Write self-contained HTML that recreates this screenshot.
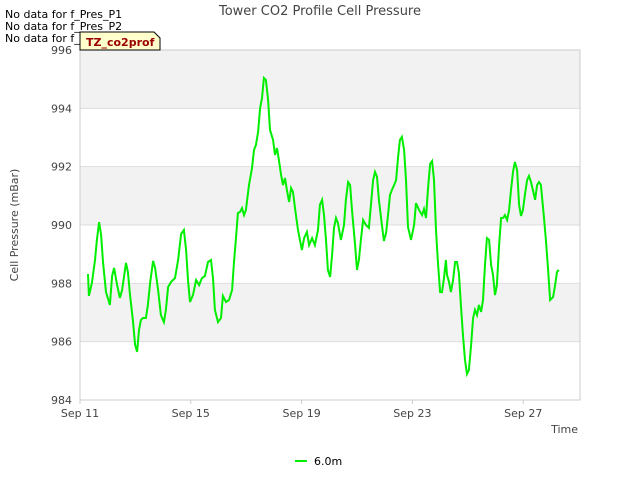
<!DOCTYPE html>
<html><head><meta charset="utf-8"><style>
body{margin:0;background:#fff;font-family:"Liberation Sans","DejaVu Sans",sans-serif}
svg text{font-family:"DejaVu Sans","Liberation Sans",sans-serif}
</style></head><body>
<svg id="chart" width="640" height="480" xmlns="http://www.w3.org/2000/svg">
<rect width="640" height="480" fill="#fff"/>
<g id="bands"></g>
<g id="grid"></g>
<rect x="80" y="50" width="500" height="350" fill="none" stroke="#ccc" stroke-width="1"/>
<g id="yticks"></g><g id="xticks"></g>
<path id="line" fill="none" stroke="#00ee00" stroke-width="2"/>
<text x="320" y="15" text-anchor="middle" font-size="13" fill="#444">Tower CO2 Profile Cell Pressure</text>
<text x="18" y="225" text-anchor="middle" font-size="11" fill="#444" transform="rotate(-90 18 225)">Cell Pressure (mBar)</text>
<text x="578" y="433" text-anchor="end" font-size="11" fill="#444">Time</text>
<text x="5" y="18" font-size="11" fill="#000">No data for f_Pres_P1</text>
<text x="5" y="30" font-size="11" fill="#000">No data for f_Pres_P2</text>
<text x="5" y="42" font-size="11" fill="#000">No data for f_Pres_P4</text>
<path d="M80,32 L154,32 L160,38 L160,50 L80,50 Z" fill="#ffffcc" stroke="#000" stroke-width="1"/>
<text x="86" y="46" font-size="11" font-weight="bold" fill="#990000">TZ_co2prof</text>
<line x1="295" y1="461" x2="307" y2="461" stroke="#00ee00" stroke-width="2"/>
<text x="314" y="465" font-size="11" fill="#000">6.0m</text>
</svg>
<script>
const days=[0.29,0.32,0.43,0.54,0.61,0.69,0.76,0.83,0.94,1.08,1.16,1.23,1.34,1.44,1.52,1.59,1.66,1.73,1.81,1.91,1.99,2.06,2.13,2.20,2.27,2.38,2.45,2.53,2.64,2.71,2.82,2.92,3.03,3.10,3.18,3.29,3.43,3.54,3.65,3.75,3.83,3.90,3.97,4.08,4.19,4.30,4.40,4.51,4.62,4.73,4.80,4.87,4.98,5.09,5.16,5.27,5.38,5.49,5.56,5.63,5.70,5.78,5.85,5.92,5.99,6.10,6.21,6.28,6.35,6.43,6.50,6.57,6.64,6.71,6.79,6.86,6.97,7.04,7.11,7.18,7.26,7.33,7.40,7.47,7.55,7.62,7.69,7.76,7.87,8.01,8.09,8.19,8.27,8.38,8.48,8.59,8.66,8.74,8.81,8.88,8.95,9.03,9.10,9.17,9.24,9.31,9.42,9.53,9.60,9.68,9.75,9.82,9.93,10.00,10.07,10.14,10.22,10.32,10.43,10.51,10.58,10.65,10.72,10.79,10.90,10.97,11.05,11.12,11.19,11.26,11.34,11.41,11.48,11.55,11.62,11.70,11.77,11.84,11.95,12.06,12.13,12.24,12.35,12.42,12.49,12.56,12.64,12.71,12.78,12.85,12.92,13.00,13.07,13.14,13.21,13.25,13.32,13.39,13.47,13.54,13.61,13.68,13.75,13.83,13.90,13.97,14.04,14.12,14.19,14.26,14.33,14.40,14.48,14.55,14.62,14.69,14.77,14.84,14.91,14.98,15.05,15.13,15.20,15.27,15.34,15.42,15.49,15.56,15.63,15.70,15.78,15.85,15.92,15.99,16.06,16.14,16.21,16.28,16.35,16.43,16.50,16.57,16.64,16.75,16.82,16.90,16.97,17.08,17.15,17.22,17.29];
const pressure=[988.32,987.57,988.01,988.80,989.49,990.10,989.66,988.73,987.70,987.26,988.25,988.53,987.94,987.50,987.77,988.22,988.70,988.39,987.57,986.74,985.89,985.65,986.40,986.74,986.81,986.81,987.26,988.01,988.77,988.53,987.77,986.91,986.67,987.09,987.87,988.05,988.18,988.80,989.69,989.83,989.14,988.11,987.36,987.60,988.11,987.94,988.18,988.25,988.73,988.80,988.18,987.09,986.67,986.81,987.57,987.36,987.43,987.77,988.73,989.55,990.41,990.45,990.58,990.34,990.51,991.37,991.95,992.57,992.74,993.19,994.01,994.35,995.04,994.97,994.29,993.26,992.91,992.40,992.64,992.23,991.71,991.37,991.61,991.20,990.79,991.27,991.13,990.58,989.83,989.14,989.55,989.76,989.31,989.55,989.31,989.83,990.69,990.86,990.34,989.49,988.46,988.22,988.97,989.90,990.24,990.07,989.49,990.00,990.86,991.47,991.37,990.51,989.31,988.46,988.80,989.49,990.17,990.00,989.90,990.75,991.54,991.82,991.65,990.86,990.00,989.45,989.73,990.34,991.03,991.20,991.37,991.54,992.30,992.91,993.02,992.57,991.54,989.93,989.49,990.00,990.75,990.51,990.34,990.55,990.24,991.20,992.09,992.19,991.54,989.83,988.73,987.70,987.70,988.18,988.80,988.29,988.05,987.70,988.11,988.73,988.73,988.35,987.26,986.16,985.37,984.89,985.03,985.89,986.81,987.09,986.91,987.26,987.02,987.43,988.63,989.55,989.49,988.63,988.29,987.60,987.94,989.31,990.24,990.24,990.34,990.17,990.51,991.20,991.82,992.16,991.89,990.69,990.31,990.51,991.03,991.54,991.68,991.47,991.20,990.86,991.37,991.47,991.37,990.24,989.49,988.46,987.43,987.53,987.94,988.39,988.46];
const yTicks=[984,986,988,990,992,994,996];
const xTickDays=[0,4,8,12,16];
const xTickLabels=["Sep 11","Sep 15","Sep 19","Sep 23","Sep 27"];
const NS="http://www.w3.org/2000/svg";
const X0=80,X1=580,Y0=400,Y1=50,DMIN=0,DMAX=18.05,VMIN=984,VMAX=996;
function sx(d){return X0+(d-DMIN)/(DMAX-DMIN)*(X1-X0);}
function sy(v){return Y0-(v-VMIN)/(VMAX-VMIN)*(Y0-Y1);}
function mk(tag,attrs,parent){const e=document.createElementNS(NS,tag);for(const k in attrs)e.setAttribute(k,attrs[k]);document.getElementById(parent).appendChild(e);return e;}
for(let i=0;i<yTicks.length-1;i++){
  if(i%2===1){
    const r=mk('rect',{x:X0,y:sy(yTicks[i+1]),width:X1-X0,height:sy(yTicks[i])-sy(yTicks[i+1]),fill:'#f2f2f2'},'bands');
    
    
  }
}
yTicks.forEach(v=>{
  const l=mk('line',{x1:X0,x2:X1,y1:sy(v),y2:sy(v),stroke:'#ddd','stroke-width':1},'grid');
  
  
  const t=mk('text',{x:X0-8,y:sy(v)+4,'text-anchor':'end','font-size':11,fill:'#444'},'yticks');
  t.textContent=v;
  
  
});
xTickDays.forEach((d,i)=>{
  const l=mk('line',{x1:sx(d),x2:sx(d),y1:Y0,y2:Y0+4,stroke:'#ccc'},'xticks');
  
  
  const t=mk('text',{x:sx(d),y:Y0+17,'text-anchor':'middle','font-size':11,fill:'#444'},'xticks');
  t.textContent=xTickLabels[i];
  
  
});
document.getElementById('line').setAttribute('d',days.map((d,i)=>(i?'L':'M')+sx(d).toFixed(1)+','+sy(pressure[i]).toFixed(1)).join(''));
</script>
</body></html>
